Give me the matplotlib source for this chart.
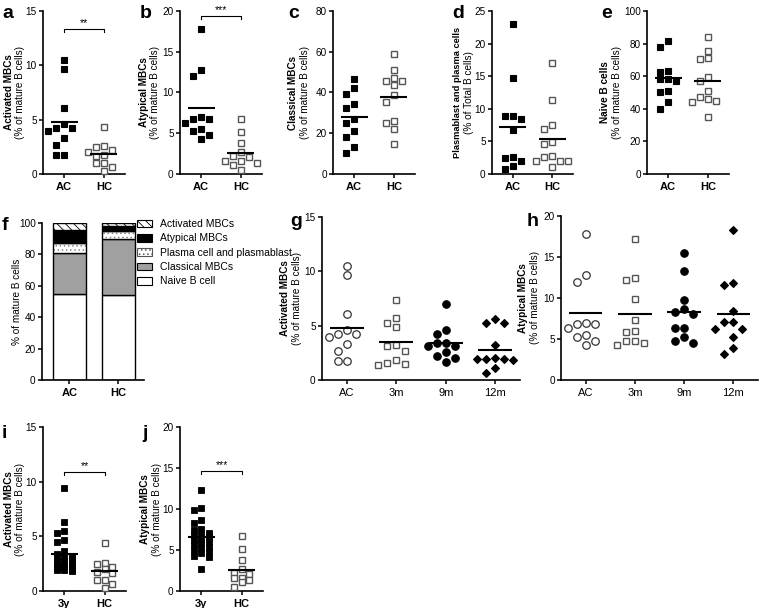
import numpy as np
import matplotlib
matplotlib.use('Agg')
import matplotlib.pyplot as plt
from matplotlib.patches import Patch

plt.rcParams['font.family'] = ['Liberation Sans', 'DejaVu Sans']
plt.rcParams['hatch.linewidth'] = 0.6

# ---------------- data ----------------
groups = ['AC', 'HC']
act_ac = [10.5, 9.7, 6.1, 4.6, 4.2, 4.0, 4.2, 3.3, 2.7, 1.75, 1.75]
act_hc = [4.35, 2.5, 2.6, 2.2, 1.75, 2.0, 1.65, 1.0, 1.0, 0.3, 0.6]
atyp_ac = [17.75, 12.75, 12.0, 6.8, 7.0, 6.8, 6.3, 5.5, 5.3, 4.8, 4.3]
atyp_hc = [6.7, 5.1, 3.8, 2.7, 2.1, 2.2, 1.6, 1.4, 1.6, 1.1, 0.5]
class_ac = [46.8, 42.4, 39.1, 34.2, 32.2, 27.2, 24.9, 21.3, 18.3, 13.4, 10.1]
class_hc = [59.0, 51.0, 45.8, 47.3, 45.7, 43.7, 38.8, 35.5, 25.2, 26.0, 21.9, 14.7]
plasma_ac = [23.0, 14.8, 8.9, 8.4, 8.9, 6.75, 2.4, 2.05, 2.55, 1.2, 0.7]
plasma_hc = [17.0, 11.35, 7.5, 6.85, 4.55, 4.85, 2.8, 2.55, 2.0, 2.0, 2.0, 1.1]
naive_ac = [81.6, 77.9, 63.2, 62.8, 58.5, 57.1, 58.1, 51.1, 50.5, 44.0, 40.1]
naive_hc = [84.3, 75.7, 70.8, 71.2, 59.3, 57.1, 50.7, 47.4, 45.0, 44.4, 46.0, 35.2]

stack_labels = ['Naive B cell', 'Classical MBCs', 'Plasma cell and plasmablast',
                'Atypical MBCs', 'Activated MBCs']
stack_ac = [54.7, 26.4, 6.2, 8.0, 4.7]
stack_hc = [54.2, 35.8, 4.9, 3.2, 1.9]

time_groups = ['AC', '3m', '9m', '12m']
act_3m = [7.4, 5.7, 4.9, 5.2, 3.1, 2.65, 3.2, 1.6, 1.4, 1.8, 1.5]
act_9m = [7.0, 4.6, 4.2, 3.4, 3.4, 3.1, 3.1, 2.6, 2.2, 2.0, 1.7]
act_12m = [5.6, 5.2, 5.2, 3.2, 2.0, 1.9, 1.9, 1.9, 1.85, 1.1, 0.6]
atyp_3m = [17.2, 12.5, 12.2, 9.9, 7.3, 6.0, 5.8, 4.8, 4.7, 4.5, 4.3]
atyp_9m = [15.5, 13.3, 9.7, 8.6, 8.25, 8.1, 6.4, 6.3, 5.3, 4.8, 4.55]
atyp_12m = [18.3, 11.8, 11.6, 8.45, 7.1, 7.1, 6.2, 6.2, 5.2, 3.9, 3.2]

late_groups = ['3y', 'HC']
act_3y = [9.4, 6.3, 5.5, 5.35, 4.65, 4.5, 3.7, 3.35, 3.2, 3.1, 3.1, 2.9,
          2.7, 2.65, 2.6, 2.4, 2.35, 2.2, 2.15, 2.1, 2.0, 1.95, 1.9, 1.85]
atyp_3y = [12.3, 10.1, 9.9, 8.7, 8.3, 7.6, 7.4, 7.1, 6.9, 6.8, 6.6, 6.4,
           6.2, 6.0, 5.8, 5.6, 5.4, 5.2, 5.0, 4.8, 4.6, 4.3, 4.1, 2.7]

# ---------------- layout helpers ----------------
W, H = 760, 608
fig = plt.figure(figsize=(W / 100, H / 100), dpi=100)
fig.patch.set_facecolor('white')


def make_ax(rect):
    l, t, r, b = rect
    return fig.add_axes([l / W, 1 - b / H, (r - l) / W, (b - t) / H])


def style_ax(ax, ylim, yticks, xlabels, xlim, bold_x=True):
    for s in ['top', 'right']:
        ax.spines[s].set_visible(False)
    for s in ['left', 'bottom']:
        ax.spines[s].set_linewidth(1.2)
    ax.set_ylim(*ylim)
    ax.set_xlim(*xlim)
    ax.set_yticks(yticks)
    ax.set_xticks(range(len(xlabels)))
    ax.set_xticklabels(xlabels, fontweight='bold' if bold_x else 'normal')
    ax.tick_params(axis='both', direction='out', length=3, width=1.1, labelsize=7.2, pad=1.5)
    ax.tick_params(axis='x', labelsize=8, pad=3)
    ax.patch.set_alpha(0)


def swarm_x(vals, center, px_x, px_y, step_px, size_px, max_slot):
    vals = np.asarray(vals, float)
    xs = np.empty(len(vals))
    placed = []
    slots = [0]
    for k in range(1, max_slot + 1):
        slots += [-k, k]
    for i in np.argsort(-vals, kind='stable'):
        y = vals[i] * px_y
        best_slot, best_d = 0, -1.0
        for slot in slots:
            d = min([abs(py - y) for s, py in placed if s == slot], default=1e9)
            if d >= size_px:
                best_slot = slot
                break
            if d > best_d:
                best_slot, best_d = slot, d
        placed.append((best_slot, y))
        xs[i] = center + best_slot * step_px / px_x
    return xs


FS = dict(marker='s', ms=4.6, mfc='black', mec='black', mew=0.8)
OS = dict(marker='s', ms=4.6, mfc='white', mec='#555555', mew=1.0)
OC = dict(marker='o', ms=5.4, mfc='white', mec='#333333', mew=0.9)
FC = dict(marker='o', ms=5.4, mfc='black', mec='black', mew=0.8)
FD = dict(marker='D', ms=4.0, mfc='black', mec='black', mew=0.8)
FSs = dict(marker='s', ms=4.2, mfc='black', mec='black', mew=0.6)


def dot_panel(rect, glabels, data, styles, ylim, yticks, xlim, bold_x=True,
              step_px=8.0, size_px=7.0, max_slot=3, mean_half=0.34):
    ax = make_ax(rect)
    l, t, r, b = rect
    px_x = (r - l) / (xlim[1] - xlim[0])
    px_y = (b - t) / (ylim[1] - ylim[0])
    for k, (vals, st) in enumerate(zip(data, styles)):
        xs = swarm_x(vals, k, px_x, px_y, step_px, size_px, max_slot)
        ax.plot(xs, vals, linestyle='none', clip_on=False, zorder=3, **st)
        m = np.mean(vals)
        ax.plot([k - mean_half, k + mean_half], [m, m], color='black', lw=1.5,
                zorder=4, solid_capstyle='butt')
    style_ax(ax, ylim, yticks, glabels, xlim, bold_x)
    ax._px_y = px_y
    return ax


def ylab(rect, xs, lines, fs=7.2):
    l, t, r, b = rect
    yc = (t + b) / 2
    for x, (txt, wt) in zip(xs, lines):
        size = fs if len(txt) < 24 else fs - 0.5
        fig.text(x / W, 1 - yc / H, txt, rotation=90, ha='center', va='center',
                 fontsize=size, fontweight=wt)


def sig(ax, y, txt, drop_px=3):
    d = drop_px / ax._px_y
    ax.plot([0, 0, 1, 1], [y - d, y, y, y - d], color='black', lw=0.8, clip_on=False)
    ax.text(0.5, y + 1.0 / ax._px_y, txt, ha='center', va='bottom', fontsize=7.5)


def letter(x, y, s):
    fig.text(x / W, 1 - y / H, s, fontsize=14, fontweight='bold', ha='left', va='center')


XL2 = (-0.53, 1.53)
XL4 = (-0.5, 3.5)

# ---------------- row 1 ----------------
ra = (43, 11, 125, 174)
ax = dot_panel(ra, groups, [act_ac, act_hc], [FS, OS], (0, 15), [0, 5, 10, 15], XL2)
sig(ax, 13.3, '**')
ylab(ra, [9, 20.5], [('Activated MBCs', 'bold'), ('(% of mature B cells)', 'normal')])
letter(2, 13, 'a')

rb = (180, 11, 262, 174)
ax = dot_panel(rb, groups, [atyp_ac, atyp_hc], [FS, OS], (0, 20), [0, 5, 10, 15, 20], XL2)
sig(ax, 19.4, '***')
ylab(rb, [144, 155.5], [('Atypical MBCs', 'bold'), ('(% of mature B cells)', 'normal')])
letter(140, 13, 'b')

rc = (333, 11, 415, 174)
ax = dot_panel(rc, groups, [class_ac, class_hc], [FS, OS], (0, 80), [0, 20, 40, 60, 80], XL2)
ylab(rc, [293, 304.5], [('Classical MBCs', 'bold'), ('(% of mature B cells)', 'normal')])
letter(288, 13, 'c')

rd = (492, 11, 573, 174)
ax = dot_panel(rd, groups, [plasma_ac, plasma_hc], [FS, OS], (0, 25), [0, 5, 10, 15, 20, 25], XL2)
ylab(rd, [457, 469.5], [('Plasmablast and plasma cells', 'bold'), ('(% of Total B cells)', 'normal')])
letter(452, 13, 'd')

re_ = (647, 11, 729, 174)
ax = dot_panel(re_, groups, [naive_ac, naive_hc], [FS, OS], (0, 100), [0, 20, 40, 60, 80, 100], XL2)
ylab(re_, [605, 616.5], [('Naive B cells', 'bold'), ('(% of mature B cells)', 'normal')])
letter(601, 13, 'e')

# ---------------- row 2 ----------------
rf = (42, 223, 144, 380)
axf = make_ax(rf)
xlf = (-0.56, 1.52)
bottoms = np.zeros(2)
layer_styles = [
    dict(facecolor='white', hatch=None),
    dict(facecolor='#a0a0a0', hatch=None),
    dict(facecolor='white', hatch='....'),
    dict(facecolor='black', hatch=None),
    dict(facecolor='white', hatch='\\\\\\\\'),
]
handles = []
for j, lab in enumerate(stack_labels):
    vals = np.array([stack_ac[j], stack_hc[j]])
    st = layer_styles[j]
    if st['hatch'] == '....':
        axf.bar([0, 1], vals, bottom=bottoms, width=0.67, facecolor='white',
                edgecolor='#888888', hatch='....', lw=0)
        axf.bar([0, 1], vals, bottom=bottoms, width=0.67, fill=False,
                edgecolor='black', lw=1)
        handles.append(Patch(facecolor='white', edgecolor='#555555', hatch='....', lw=0.8, label=lab))
    else:
        axf.bar([0, 1], vals, bottom=bottoms, width=0.67, facecolor=st['facecolor'],
                edgecolor='black', hatch=st['hatch'], lw=1)
        handles.append(Patch(facecolor=st['facecolor'], edgecolor='black', hatch=st['hatch'],
                             lw=0.8, label=lab))
    bottoms = bottoms + vals
style_ax(axf, (0, 100), [0, 20, 40, 60, 80, 100], groups, xlf, True)
fig.legend(handles[::-1], stack_labels[::-1], loc='upper left',
           bbox_to_anchor=(137 / W, 1 - 219 / H), frameon=False, fontsize=7.5,
           handlelength=1.4, handleheight=0.75, labelspacing=0.42, handletextpad=0.8,
           borderaxespad=0, borderpad=0)
ylab(rf, [17], [('% of mature B cells', 'normal')])
letter(2, 226, 'f')

rg = (322, 217, 520, 380)
ax = dot_panel(rg, time_groups, [act_ac, act_3m, act_9m, act_12m], [OC, OS, FC, FD],
               (0, 15), [0, 5, 10, 15], XL4, bold_x=False, step_px=9, size_px=7.5)
ylab(rg, [285, 297.5], [('Activated MBCs', 'bold'), ('(% of mature B cells)', 'normal')])
letter(290, 222, 'g')

rh = (561, 216, 758, 380)
ax = dot_panel(rh, time_groups, [atyp_ac, atyp_3m, atyp_9m, atyp_12m], [OC, OS, FC, FD],
               (0, 20), [0, 5, 10, 15, 20], XL4, bold_x=False, step_px=9, size_px=7.5)
ylab(rh, [523, 535], [('Atypical MBCs', 'bold'), ('(% of mature B cells)', 'normal')])
letter(527, 222, 'h')

# ---------------- row 3 ----------------
ri = (43, 427, 126, 591)
ax = dot_panel(ri, late_groups, [act_3y, act_hc], [FSs, OS], (0, 15), [0, 5, 10, 15], XL2,
               step_px=7.5, size_px=5.5, max_slot=1)
sig(ax, 10.9, '**')
ylab(ri, [9, 20.5], [('Activated MBCs', 'bold'), ('(% of mature B cells)', 'normal')])
letter(2, 434, 'i')

rj = (180, 427, 263, 591)
ax = dot_panel(rj, late_groups, [atyp_3y, atyp_hc], [FSs, OS], (0, 20), [0, 5, 10, 15, 20], XL2,
               step_px=7.5, size_px=5.5, max_slot=1)
sig(ax, 14.6, '***')
ylab(rj, [145, 156.5], [('Atypical MBCs', 'bold'), ('(% of mature B cells)', 'normal')])
letter(142, 434, 'j')

fig.savefig('out.png', dpi=100, facecolor='white')
